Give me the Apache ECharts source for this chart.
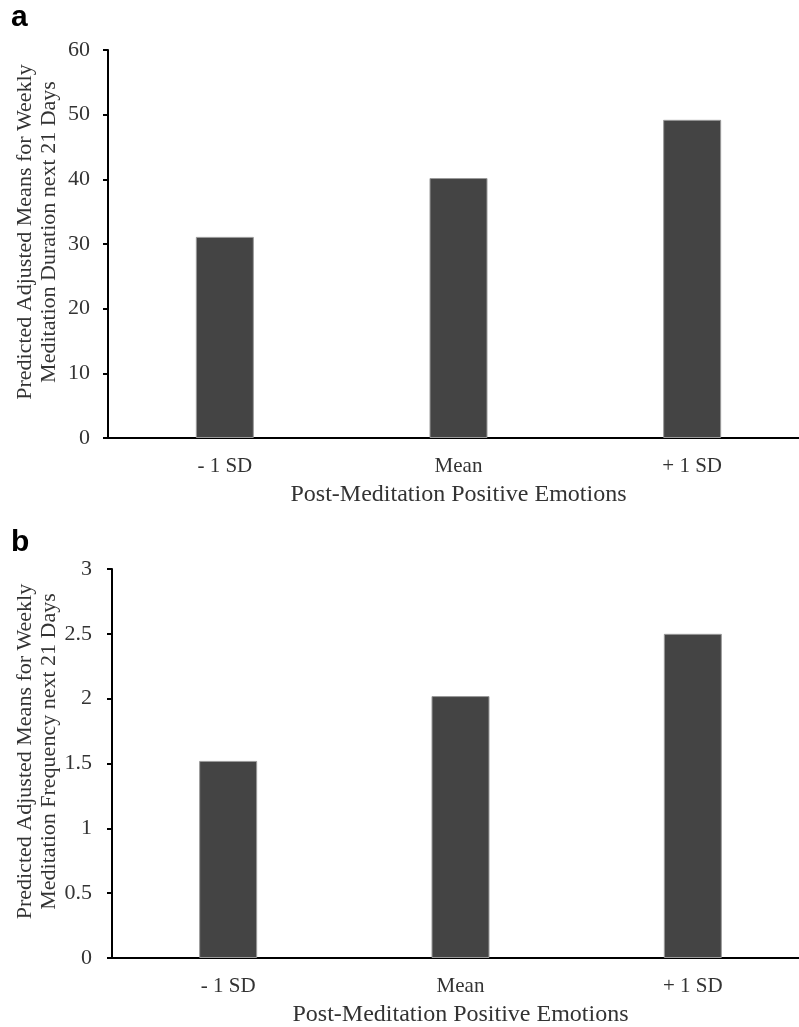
<!DOCTYPE html>
<html>
<head>
<meta charset="utf-8">
<style>
  html, body { margin: 0; padding: 0; background: #fff; }
  #chart { width: 799px; height: 1027px; }
</style>
<script src="https://cdn.jsdelivr.net/npm/echarts@6/dist/echarts.min.js"></script>
</head>
<body>
<div id="chart"></div>
<script>
// categories and values
var categories = ['- 1 SD', 'Mean', '+ 1 SD'];
var durationValues = [31.1, 40.2, 49.2];
var frequencyValues = [1.52, 2.02, 2.50];
var xName = 'Post-Meditation Positive Emotions';
var durationName = 'Predicted Adjusted Means for Weekly\nMeditation Duration next 21 Days';
var frequencyName = 'Predicted Adjusted Means for Weekly\nMeditation Frequency next 21 Days';

var serif = '"Liberation Serif", "Times New Roman", serif';
var textColor = '#333';

function xAxisOf(idx) {
  return {
    type: 'category',
    gridIndex: idx,
    data: categories,
    name: xName,
    nameLocation: 'middle',
    nameGap: 45,
    nameMoveOverlap: false,
    nameTextStyle: { fontFamily: serif, fontSize: 24, color: textColor },
    axisLine: { lineStyle: { color: '#000', width: 2 } },
    axisTick: { show: false },
    axisLabel: { fontFamily: serif, fontSize: 21, color: textColor, margin: 18 },
    splitLine: { show: false }
  };
}

function yAxisOf(idx, max, interval, name, gap, labelMargin) {
  return {
    type: 'value',
    gridIndex: idx,
    min: 0,
    max: max,
    interval: interval,
    name: name,
    nameLocation: 'middle',
    nameRotate: 90,
    nameGap: gap,
    nameMoveOverlap: false,
    nameTextStyle: {
      fontFamily: serif, fontSize: 22, color: textColor, lineHeight: 24,
      padding: [0, 0, 0, 24]
    },
    axisLine: { show: true, lineStyle: { color: '#000', width: 2 } },
    axisTick: { show: true, length: 5, lineStyle: { color: '#000', width: 2 } },
    axisLabel: { fontFamily: serif, fontSize: 22, color: textColor, margin: labelMargin },
    splitLine: { show: false }
  };
}

function barSeries(idx, values) {
  return {
    type: 'bar',
    xAxisIndex: idx,
    yAxisIndex: idx,
    data: values,
    barWidth: 58,
    itemStyle: { color: '#444', borderColor: '#999', borderWidth: 1 },
    silent: true
  };
}

var chart = echarts.init(document.getElementById('chart'));
chart.setOption({
  backgroundColor: '#fff',
  animation: false,
  title: [
    { text: 'a', left: 11, top: 3, padding: 0,
      textStyle: { fontFamily: '"Liberation Sans", Arial, sans-serif', fontWeight: 'bold', fontSize: 30, color: '#000' } },
    { text: 'b', left: 11, top: 528, padding: 0,
      textStyle: { fontFamily: '"Liberation Sans", Arial, sans-serif', fontWeight: 'bold', fontSize: 30, color: '#000' } }
  ],
  grid: [
    { left: 108, top: 50, width: 701, height: 388, outerBoundsMode: 'none', containLabel: false },
    { left: 112, top: 569, width: 697, height: 389, outerBoundsMode: 'none', containLabel: false }
  ],
  xAxis: [xAxisOf(0), xAxisOf(1)],
  yAxis: [
    yAxisOf(0, 60, 10, durationName, 47, 18),
    yAxisOf(1, 3, 0.5, frequencyName, 51, 20)
  ],
  series: [barSeries(0, durationValues), barSeries(1, frequencyValues)]
});
</script>
</body>
</html>
